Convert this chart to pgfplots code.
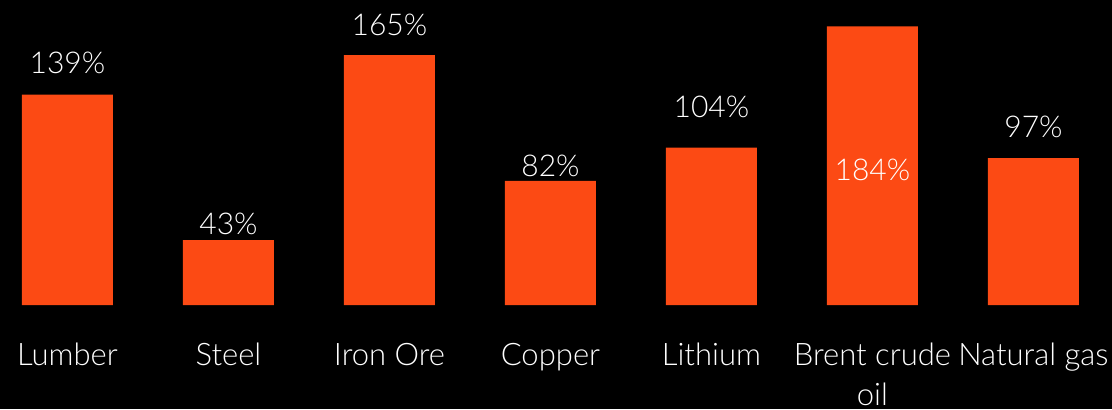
\documentclass[border=0pt]{standalone}
\usepackage{pgfplots}
\pgfplotsset{compat=1.18}
\usepackage{fontspec}
\setmainfont{Lato Light}
\definecolor{barc}{RGB}{252,74,20}
\begin{document}
\begin{tikzpicture}
\begin{axis}[
  scale only axis, width=556pt, height=204.5pt,
  xmin=-0.419, xmax=6.488, ymin=-68.65, ymax=201.3,
  axis background/.style={fill=black},
  axis line style={draw=none},
  major tick length=0pt,
  ytick=\empty,
  xtick={0,1,2,3,4,5,6},
  xticklabels={{Lumber\\\mbox{}},{Steel\\\mbox{}},{Iron Ore\\\mbox{}},{Copper\\\mbox{}},{Lithium\\\mbox{}},{Brent crude\\oil},{Natural gas\\\mbox{}}},
  xticklabel style={font=\fontsize{15.5}{20}\selectfont, text=white, align=center, anchor=base, yshift=2pt, inner sep=0pt},
  clip=false,
]
\addplot[ybar, bar width=45.5pt, bar shift=0pt, fill=barc, draw=none]
  coordinates {(0,139) (1,43) (2,165) (3,82) (4,104) (5,184) (6,97)};
\addplot[draw=none, mark=none, nodes near coords, point meta=explicit symbolic,
  nodes near coords style={anchor=base, text=white, inner sep=0pt, font=\fontsize{15}{18}\selectfont}]
  table[meta=label] {
x y label
0 153.1 139\%
1 46.9 43\%
2 178.2 165\%
3 85.1 82\%
4 123.9 104\%
5 82.5 184\%
6 110.9 97\%
};
\end{axis}
\end{tikzpicture}
\end{document}
